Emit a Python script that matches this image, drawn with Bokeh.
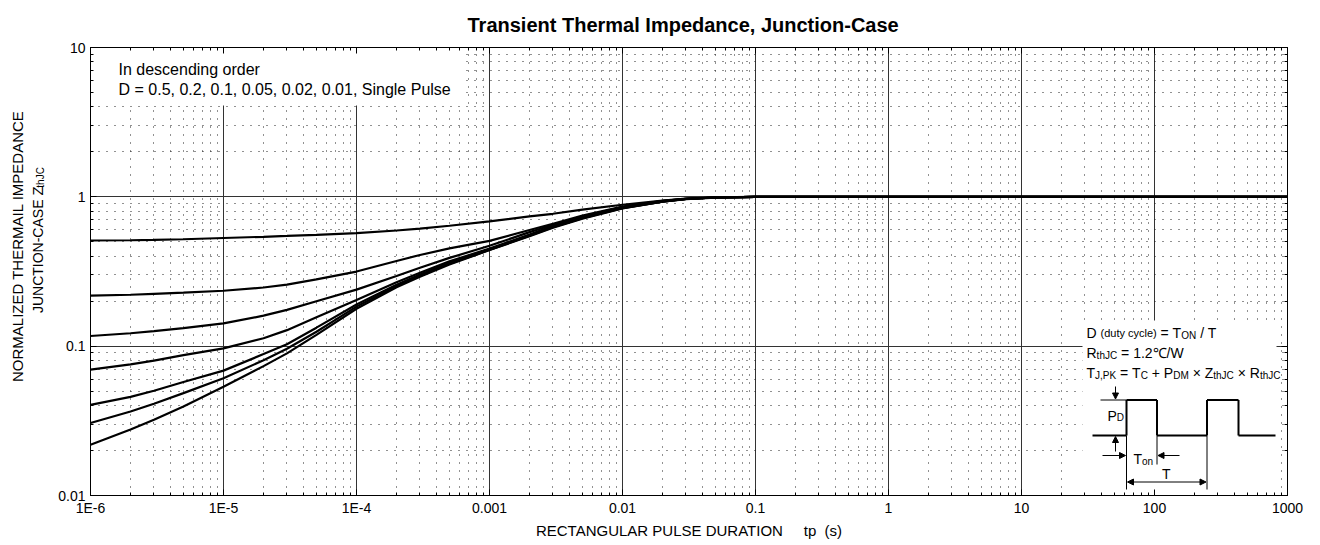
import math
from bokeh.plotting import figure
from bokeh.layouts import row
from bokeh.models import (Range1d, FixedTicker, LogAxis, CustomJSTickFormatter, Label,
                          BoxAnnotation, Arrow, NormalHead)
from bokeh.embed import file_html
from bokeh.resources import INLINE

# ---------------- data ----------------
tp = [1e-6, 2e-6, 3e-6, 5e-6, 1e-5, 2e-5, 3e-5, 5e-5, 1e-4, 2e-4, 3e-4, 5e-4,
      1e-3, 2e-3, 3e-3, 5e-3, 1e-2, 2e-2, 3e-2, 5e-2, 1e-1, 1, 10, 100, 1000]
z_d050 = [0.51, 0.512, 0.515, 0.52, 0.53, 0.54, 0.547, 0.557, 0.572, 0.595, 0.612, 0.64,
          0.685, 0.74, 0.77, 0.82, 0.885, 0.945, 0.975, 0.993, 1.0, 1.0, 1.0, 1.0, 1.0]
z_d020 = [0.218, 0.221, 0.224, 0.228, 0.235, 0.247, 0.258, 0.28, 0.316, 0.372, 0.408, 0.452,
          0.507, 0.6, 0.66, 0.75, 0.86, 0.94, 0.97, 0.99, 1.0, 1.0, 1.0, 1.0, 1.0]
z_d010 = [0.117, 0.122, 0.126, 0.132, 0.142, 0.16, 0.175, 0.2, 0.239, 0.295, 0.335, 0.39,
          0.47, 0.58, 0.65, 0.74, 0.855, 0.935, 0.97, 0.99, 1.0, 1.0, 1.0, 1.0, 1.0]
z_d005 = [0.0697, 0.0755, 0.080, 0.087, 0.0966, 0.113, 0.128, 0.156, 0.204, 0.268, 0.31, 0.37,
          0.45, 0.56, 0.64, 0.735, 0.85, 0.935, 0.97, 0.99, 1.0, 1.0, 1.0, 1.0, 1.0]
z_d002 = [0.0404, 0.0458, 0.0503, 0.0575, 0.0686, 0.0885, 0.103, 0.133, 0.19, 0.258, 0.302, 0.362,
          0.445, 0.553, 0.63, 0.725, 0.843, 0.93, 0.967, 0.99, 1.0, 1.0, 1.0, 1.0, 1.0]
z_d001 = [0.0306, 0.0365, 0.0412, 0.0485, 0.061, 0.0805, 0.096, 0.125, 0.184, 0.253, 0.297, 0.357,
          0.44, 0.55, 0.627, 0.72, 0.84, 0.93, 0.967, 0.99, 1.0, 1.0, 1.0, 1.0, 1.0]
z_single = [0.0219, 0.0277, 0.0322, 0.0395, 0.0535, 0.0735, 0.0895, 0.119, 0.178, 0.248, 0.292, 0.352,
            0.44, 0.545, 0.622, 0.715, 0.835, 0.927, 0.965, 0.988, 1.0, 1.0, 1.0, 1.0, 1.0]
series = [z_d050, z_d020, z_d010, z_d005, z_d002, z_d001, z_single]

x_tick_labels = ["1E-6", "1E-5", "1E-4", "0.001", "0.01", "0.1", "1", "10", "100", "1000"]
y_tick_labels = ["0.01", "0.1", "1", "10"]

title_text = "Transient Thermal Impedance, Junction-Case"
x_title = "RECTANGULAR PULSE DURATION\u00a0\u00a0\u00a0\u00a0\u00a0tp\u00a0\u00a0(s)"
y_title_1 = "NORMALIZED THERMAIL IMPEDANCE"
y_title_2 = "JUNCTION-CASE"
legend_lines = ["In descending order", "D = 0.5, 0.2, 0.1, 0.05, 0.02, 0.01, Single Pulse"]

# ---------------- layout helpers ----------------
FONT = "Liberation Sans"
LEFTW = 55                                     # width of the side strip holding the y title
FL, FR, FT, FB = 90.0, 1287.0, 47.0, 495.0     # frame edges in page pixels
XDEC = (FR - FL) / 9.0
YDEC = (FB - FT) / 3.0
BASE = -5                                       # baseline correction for labels


def X(px):
    return 10 ** (-6 + (px - FL) / XDEC)


def Y(py):
    return 10 ** (1 - (py - FT) / YDEC)


ARIAL = {' ': 278, '(': 333, ')': 333, '+': 584, ',': 278, '-': 333, '.': 278, '/': 278,
         '=': 584, '\u00d7': 584, 'A': 667, 'C': 722, 'D': 722, 'J': 500, 'K': 667, 'M': 833,
         'N': 722, 'O': 778, 'P': 667, 'R': 722, 'T': 611, 'W': 944, 'Z': 611, 'c': 500,
         'd': 556, 'e': 556, 'h': 556, 'l': 222, 'n': 556, 'o': 556, 't': 278, 'u': 556,
         'y': 500, '\u2103': 1000}


def tw(s, size):
    return sum(ARIAL.get(c, 556) for c in s) * size / 1000.0


def add_label(p, px, py, text, size, **kw):
    p.add_layout(Label(x=X(px), y=Y(py + BASE), text=text, text_font=FONT,
                       text_font_size=f"{size}px", text_color="black",
                       text_baseline=kw.pop("baseline", "alphabetic"),
                       text_align=kw.pop("align", "left"), **kw))


def rich(p, x0, y0, segs):
    x = x0
    for s, size, dy in segs:
        lead = len(s) - len(s.lstrip(' '))
        add_label(p, x + lead * tw(' ', size), y0 + dy, s.strip(' '), size)
        x += tw(s, size)


def seg(p, x1, y1, x2, y2, width=1, start=False, end=False):
    p.add_layout(Arrow(x_start=X(x1), y_start=Y(y1), x_end=X(x2), y_end=Y(y2),
                       line_color="black", line_width=width,
                       start=NormalHead(size=6, fill_color="black", line_color="black") if start else None,
                       end=NormalHead(size=6, fill_color="black", line_color="black") if end else None))


# ---------------- main figure ----------------
p = figure(x_axis_type="log", y_axis_type="log",
           x_range=Range1d(1e-6, 1e3), y_range=Range1d(1e-2, 10),
           frame_width=1197, frame_height=448,
           min_border_left=int(FL) - LEFTW, min_border_right=33, min_border_top=47, min_border_bottom=50,
           output_backend="svg", toolbar_location=None,
           background_fill_color="white", border_fill_color="white")
p.outline_line_color = "black"
p.outline_line_width = 1

p.title.text = title_text
p.title.align = "left"
p.title.offset = 377
p.title.standoff = 23
p.title.text_font = FONT
p.title.text_font_size = "20px"
p.title.text_font_style = "bold"
p.title.text_color = "black"

xticker = FixedTicker(ticks=[10.0 ** k for k in range(-6, 4)],
                      minor_ticks=[m * 10.0 ** k for k in range(-6, 3) for m in range(2, 10)])
yticker = FixedTicker(ticks=[10.0 ** k for k in range(-2, 2)],
                      minor_ticks=[m * 10.0 ** k for k in range(-2, 1) for m in range(2, 10)])

xfmt = CustomJSTickFormatter(args=dict(labels=x_tick_labels),
                             code="const i = Math.round(Math.log10(tick)) + 6; return (i >= 0 && i < labels.length) ? labels[i] : '';")
yfmt = CustomJSTickFormatter(args=dict(labels=y_tick_labels),
                             code="const i = Math.round(Math.log10(tick)) + 2; return (i >= 0 && i < labels.length) ? labels[i] : '';")
blank = CustomJSTickFormatter(code="return '';")

for ax, tk, fm in ((p.xaxis[0], xticker, xfmt), (p.yaxis[0], yticker, yfmt)):
    ax.ticker = tk
    ax.formatter = fm
    ax.major_tick_in = 6
    ax.major_tick_out = 0
    ax.minor_tick_in = 3
    ax.minor_tick_out = 0
    ax.axis_line_color = "black"
    ax.major_tick_line_color = "black"
    ax.minor_tick_line_color = "black"
    ax.major_label_text_font = FONT
    ax.major_label_text_font_size = "14px"
    ax.major_label_text_color = "black"

p.xaxis.major_label_standoff = 4
p.yaxis.major_label_standoff = 5
p.xaxis.axis_label = x_title
p.xaxis.axis_label_text_font = FONT
p.xaxis.axis_label_text_font_size = "15px"
p.xaxis.axis_label_text_font_style = "normal"
p.xaxis.axis_label_text_color = "black"
p.xaxis.axis_label_standoff = 3

for loc, tk in (("above", xticker), ("right", yticker)):
    ax = LogAxis(ticker=tk, formatter=blank, major_label_standoff=0,
                 major_tick_in=6, major_tick_out=0, minor_tick_in=3, minor_tick_out=0,
                 axis_line_color="black", major_tick_line_color="black",
                 minor_tick_line_color="black")
    p.add_layout(ax, loc)

for g in (p.xgrid[0], p.ygrid[0]):
    g.grid_line_color = "#333333"
    g.grid_line_width = 1
    g.minor_grid_line_color = "#222222"
    g.minor_grid_line_width = 1
    g.minor_grid_line_dash = "1 7"

# white boxes hiding the grid behind the notes
p.add_layout(BoxAnnotation(left=X(FL + 1), right=X(465), top=Y(FT + 1), bottom=Y(105),
                           fill_color="white", fill_alpha=1, line_color=None, level="underlay"))
p.add_layout(BoxAnnotation(left=X(1082), right=X(1276), top=Y(320), bottom=Y(FB - 0.5),
                           fill_color="white", fill_alpha=1, line_color=None, level="underlay"))

# curves
for ys in series:
    p.line(tp, ys, line_color="black", line_width=2.2)

# legend note
add_label(p, 118, 74.3, legend_lines[0], 16)
add_label(p, 118, 94, legend_lines[1], 16)

# inset note
M, S, P2 = 14, 10, 11
rich(p, 1086, 337, [("D", M, 0), (" ", M, 0), ("(duty cycle)", P2, 0), (" = T", M, 0),
                    ("ON", S, 3), (" / T", M, 0)])
rich(p, 1086, 357, [("R", M, 0), ("thJC", S, 3), (" = 1.2\u2103/W", M, 0)])
rich(p, 1086, 377, [("T", M, 0), ("J,PK", S, 3), (" = T", M, 0), ("C", S, 3), (" + P", M, 0),
                    ("DM", S, 3), (" \u00d7 Z", M, 0), ("thJC", S, 3), (" \u00d7 R", M, 0),
                    ("thJC", S, 3)])

# pulse diagram
lo, hi = 435.0, 399.5
wave = [(1092, lo), (1126, lo), (1126, hi), (1156.5, hi), (1156.5, lo), (1206.5, lo),
        (1206.5, hi), (1238, hi), (1238, lo), (1275, lo)]
for (a, b), (c, d) in zip(wave[:-1], wave[1:]):
    seg(p, a, b, c, d, width=2)
seg(p, 1100, hi, 1126, hi)
seg(p, 1115, 386, 1115, hi - 1, end=True)
seg(p, 1115, 451, 1115, lo + 1, end=True)
seg(p, 1126, lo, 1126, 489)
seg(p, 1156.5, lo, 1156.5, 464)
seg(p, 1206.5, lo, 1206.5, 489)
seg(p, 1102, 455, 1125, 455, end=True)
seg(p, 1179, 455, 1157.5, 455, end=True)
seg(p, 1127, 481.5, 1205.5, 481.5, start=True, end=True)
rich(p, 1107, 420, [("P", M, 0), ("D", S, 2)])
rich(p, 1133, 463.5, [("T", M, 0), ("on", S, 2.5)])
add_label(p, 1161.5, 478.5, "T", M)

# ---------------- side strip with the rotated y title ----------------
side = figure(x_range=Range1d(0, LEFTW), y_range=Range1d(545, 0),
              width=LEFTW, height=545, min_border=0,
              x_axis_location=None, y_axis_location=None, title_location=None,
              output_backend="svg", toolbar_location=None,
              background_fill_color="white", border_fill_color="white")
side.outline_line_color = None
side.grid.visible = False


def side_label(px, py, text, size, align="left"):
    side.add_layout(Label(x=px - 8, y=py, text=text, text_font=FONT,
                          text_font_size=f"{size}px", text_color="black",
                          text_baseline="alphabetic", text_align=align, angle=math.pi / 2))


side_label(25, 241.7, y_title_1, 15, align="center")
side_label(45, 254, y_title_2, 14, align="center")
side_label(45, 180, "Z", 15)
side_label(48, 170.5, "thJC", 10)

page = row(side, p, spacing=0)
open("out.html", "w").write(file_html(page, INLINE))
